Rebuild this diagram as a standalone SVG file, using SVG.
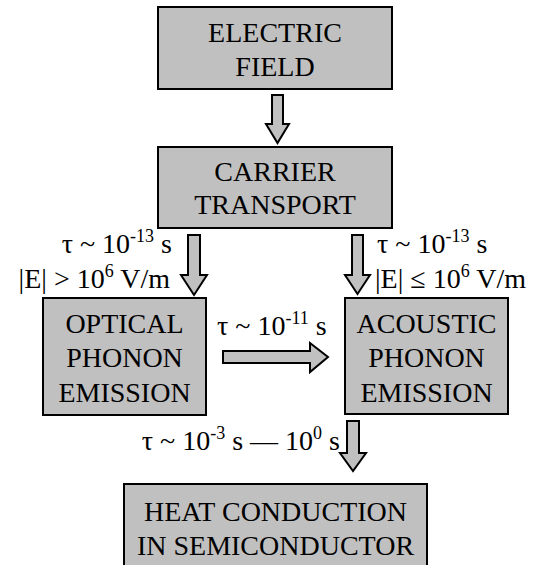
<svg xmlns="http://www.w3.org/2000/svg" width="536" height="565" viewBox="0 0 536 565">
<style>
.box{fill:#c0c0c0;stroke:#000;stroke-width:2}
.arr{fill:#c0c0c0;stroke:#000;stroke-width:2;stroke-linejoin:miter}
text{font-family:'Liberation Serif','Times New Roman',serif;font-size:28px;fill:#000}
.c{text-anchor:middle}
.e{text-anchor:end}
.sup{font-size:18px}
</style>
<rect width="536" height="565" fill="#fff"/>
<g id="electric-field">
<rect class="box" x="158" y="7" width="234" height="82"/>
<text class="c" x="275" y="42">ELECTRIC</text>
<text class="c" x="275" y="76">FIELD</text>
</g>
<g id="carrier-transport">
<rect class="box" x="158" y="147" width="234" height="81"/>
<text class="c" x="275" y="181">CARRIER</text>
<text class="c" x="275" y="214">TRANSPORT</text>
</g>
<g id="optical-phonon">
<rect class="box" x="43" y="298" width="163" height="117"/>
<text class="c" x="124.5" y="333">OPTICAL</text>
<text class="c" x="124.5" y="367">PHONON</text>
<text class="c" x="124.5" y="402">EMISSION</text>
</g>
<g id="acoustic-phonon">
<rect class="box" x="345" y="298" width="163" height="116"/>
<text class="c" x="426.5" y="333">ACOUSTIC</text>
<text class="c" x="426.5" y="367">PHONON</text>
<text class="c" x="426.5" y="402">EMISSION</text>
</g>
<g id="heat-conduction">
<rect class="box" x="124" y="484" width="303" height="95"/>
<text class="c" x="275.5" y="521">HEAT CONDUCTION</text>
<text class="c" x="275.5" y="555">IN SEMICONDUCTOR</text>
</g>
<g id="connectors">
<polygon class="arr" points="272,95 283,95 283,124 289,124 277.5,143 266,124 272,124"/>
<polygon class="arr" points="188,235 200,235 200,275 207,275 194,295 181,275 188,275"/>
<polygon class="arr" points="352,235 363,235 363,275 370,275 357.5,294 345,275 352,275"/>
<polygon class="arr" points="223,351 310,351 310,343 328,357 310,372 310,363 223,363"/>
<polygon class="arr" points="347,421 359,421 359,453 366,453 353,471 340,453 347,453"/>
</g>
<g id="labels">
<text class="e" x="172" y="253">τ ~ 10<tspan class="sup" dy="-11">-13</tspan><tspan dy="11"> s</tspan></text>
<text class="e" x="170" y="288">|E| &gt; 10<tspan class="sup" dy="-11">6</tspan><tspan dy="11"> V/m</tspan></text>
<text x="377" y="253">τ ~ 10<tspan class="sup" dy="-11">-13</tspan><tspan dy="11"> s</tspan></text>
<text x="375" y="288">|E| ≤ 10<tspan class="sup" dy="-11">6</tspan><tspan dy="11"> V/m</tspan></text>
<text x="217" y="335">τ ~ 10<tspan class="sup" dy="-11">-11</tspan><tspan dy="11"> s</tspan></text>
<text class="e" x="340" y="450">τ ~ 10<tspan class="sup" dy="-11">-3</tspan><tspan dy="11"> s — 10</tspan><tspan class="sup" dy="-11">0</tspan><tspan dy="11"> s</tspan></text>
</g>
</svg>
